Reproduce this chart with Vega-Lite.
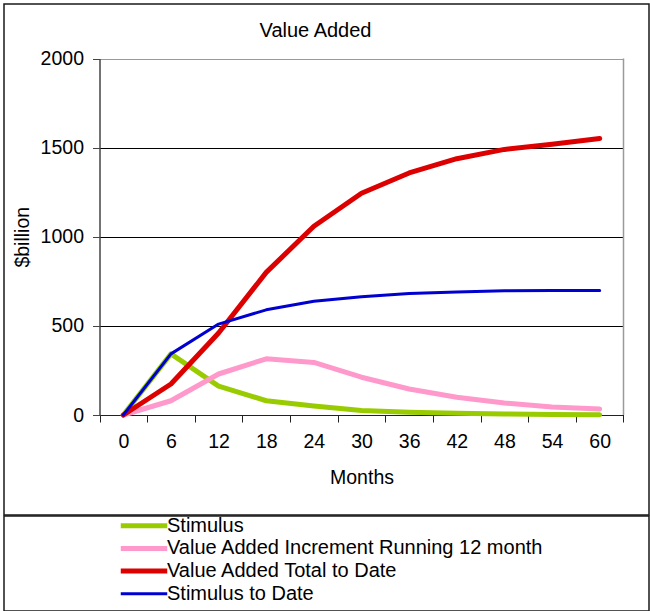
{
  "$schema": "https://vega.github.io/schema/vega-lite/v6.json",
  "padding": {"left": 3, "top": 3, "right": 0, "bottom": 0},
  "spacing": -6,
  "resolve": {"legend": {"stroke": "independent", "strokeWidth": "independent"}},
  "config": {
    "font": "Liberation Sans",
    "view": {"stroke": "#1a1a1a", "strokeWidth": 1.5},
    "axis": {
      "labelFont": "Liberation Sans",
      "labelFontSize": 19.5,
      "labelColor": "#000",
      "titleFont": "Liberation Sans",
      "titleFontSize": 19.5,
      "titleFontWeight": "normal",
      "titleColor": "#000"
    },
    "legend": {
      "labelFont": "Liberation Sans",
      "labelFontSize": 20,
      "labelColor": "#000",
      "labelLimit": 600
    }
  },
  "vconcat": [
    {
      "width": 645,
      "height": 511,
      "title": {
        "text": "Value Added",
        "anchor": "middle",
        "frame": "group",
        "offset": -46.5,
        "baseline": "middle",
        "dx": -11,
        "fontSize": 20,
        "fontWeight": "normal",
        "font": "Liberation Sans",
        "color": "#000"
      },
      "layer": [
        {
          "data": {
            "values": [
              {"month": 0, "series": "Stimulus", "value": 0},
              {"month": 6, "series": "Stimulus", "value": 343},
              {"month": 12, "series": "Stimulus", "value": 162},
              {"month": 18, "series": "Stimulus", "value": 80},
              {"month": 24, "series": "Stimulus", "value": 50},
              {"month": 30, "series": "Stimulus", "value": 25},
              {"month": 36, "series": "Stimulus", "value": 15},
              {"month": 42, "series": "Stimulus", "value": 10},
              {"month": 48, "series": "Stimulus", "value": 6},
              {"month": 54, "series": "Stimulus", "value": 3},
              {"month": 60, "series": "Stimulus", "value": 2},
              {"month": 0, "series": "Value Added Increment Running 12 month", "value": 0},
              {"month": 6, "series": "Value Added Increment Running 12 month", "value": 80},
              {"month": 12, "series": "Value Added Increment Running 12 month", "value": 230},
              {"month": 18, "series": "Value Added Increment Running 12 month", "value": 315},
              {"month": 24, "series": "Value Added Increment Running 12 month", "value": 295},
              {"month": 30, "series": "Value Added Increment Running 12 month", "value": 212},
              {"month": 36, "series": "Value Added Increment Running 12 month", "value": 146},
              {"month": 42, "series": "Value Added Increment Running 12 month", "value": 100},
              {"month": 48, "series": "Value Added Increment Running 12 month", "value": 67},
              {"month": 54, "series": "Value Added Increment Running 12 month", "value": 45},
              {"month": 60, "series": "Value Added Increment Running 12 month", "value": 34},
              {"month": 0, "series": "Value Added Total to Date", "value": 0},
              {"month": 6, "series": "Value Added Total to Date", "value": 174},
              {"month": 12, "series": "Value Added Total to Date", "value": 460},
              {"month": 18, "series": "Value Added Total to Date", "value": 800},
              {"month": 24, "series": "Value Added Total to Date", "value": 1059},
              {"month": 30, "series": "Value Added Total to Date", "value": 1244},
              {"month": 36, "series": "Value Added Total to Date", "value": 1358},
              {"month": 42, "series": "Value Added Total to Date", "value": 1438},
              {"month": 48, "series": "Value Added Total to Date", "value": 1490},
              {"month": 54, "series": "Value Added Total to Date", "value": 1519},
              {"month": 60, "series": "Value Added Total to Date", "value": 1551},
              {"month": 0, "series": "Stimulus to Date", "value": 0},
              {"month": 6, "series": "Stimulus to Date", "value": 343},
              {"month": 12, "series": "Stimulus to Date", "value": 510},
              {"month": 18, "series": "Stimulus to Date", "value": 590},
              {"month": 24, "series": "Stimulus to Date", "value": 638},
              {"month": 30, "series": "Stimulus to Date", "value": 664},
              {"month": 36, "series": "Stimulus to Date", "value": 681},
              {"month": 42, "series": "Stimulus to Date", "value": 690},
              {"month": 48, "series": "Stimulus to Date", "value": 697},
              {"month": 54, "series": "Stimulus to Date", "value": 699},
              {"month": 60, "series": "Stimulus to Date", "value": 699}
            ]
          },
          "mark": {"type": "line", "strokeCap": "round", "strokeJoin": "round"},
          "encoding": {
            "x": {
              "field": "month",
              "type": "ordinal",
              "bandPosition": 0.5,
              "scale": {"type": "band", "range": [95.5, 619.5], "paddingInner": 0, "paddingOuter": 0},
              "axis": {
                "orient": "bottom",
                "offset": -100,
                "title": "Months",
                "labelAngle": 0,
                "tickBand": "extent",
                "tickSize": 7,
                "labelPadding": 10,
                "domainColor": "#222",
                "tickColor": "#222",
                "grid": false,
                "titleY": 62.5,
                "titleBaseline": "middle"
              }
            },
            "y": {
              "field": "value",
              "type": "quantitative",
              "scale": {"domain": [0, 2000], "range": [411, 54.5], "nice": false},
              "axis": {
                "orient": "left",
                "offset": -95.5,
                "values": [0, 500, 1000, 1500, 2000],
                "format": "d",
                "grid": true,
                "gridColor": {"condition": {"test": "datum.value === 2000", "value": "#9a9a9a"}, "value": "#000"},
                "tickSize": 7,
                "labelPadding": 9,
                "domainColor": "#444",
                "domainWidth": 1.5,
                "tickColor": "#444",
                "title": "$billion",
                "titleX": -77,
                "titleBaseline": "middle"
              }
            },
            "color": {
              "field": "series",
              "type": "nominal",
              "scale": {
                "domain": ["Stimulus", "Value Added Increment Running 12 month", "Value Added Total to Date", "Stimulus to Date"],
                "range": ["#99cc00", "#ff99cc", "#dd0000", "#0000d0"]
              },
              "legend": null
            },
            "strokeWidth": {
              "field": "series",
              "type": "nominal",
              "scale": {
                "type": "ordinal",
                "domain": ["Stimulus", "Value Added Increment Running 12 month", "Value Added Total to Date", "Stimulus to Date"],
                "range": [5, 5, 5, 3]
              },
              "legend": null
            }
          }
        },
        {
          "data": {"values": [{}]},
          "mark": {"type": "rule", "color": "#9a9a9a", "strokeWidth": 1.5},
          "encoding": {
            "x": {"datum": 60, "type": "ordinal", "bandPosition": 1},
            "y": {"datum": 0, "type": "quantitative"},
            "y2": {"datum": 2000}
          }
        }
      ]
    },
    {
      "width": 645,
      "height": 95,
      "data": {
        "values": [
          {"series": "Stimulus"},
          {"series": "Value Added Increment Running 12 month"},
          {"series": "Value Added Total to Date"},
          {"series": "Stimulus to Date"}
        ]
      },
      "mark": {"type": "text", "text": ""},
      "encoding": {
        "y": {"field": "series", "type": "nominal", "axis": null},
        "stroke": {
          "field": "series",
          "type": "nominal",
          "scale": {
            "domain": ["Stimulus", "Value Added Increment Running 12 month", "Value Added Total to Date", "Stimulus to Date"],
            "range": ["#99cc00", "#ff99cc", "#dd0000", "#0000d0"]
          },
          "legend": {
            "title": null,
            "orient": "none",
            "legendX": 130,
            "legendY": -0.3,
            "padding": 0,
            "symbolType": "M-4,0H4",
            "symbolSize": 135,
            "labelOffset": 13,
            "rowPadding": 2.7
          }
        },
        "strokeWidth": {
          "field": "series",
          "type": "nominal",
          "scale": {
            "type": "ordinal",
            "domain": ["Stimulus", "Value Added Increment Running 12 month", "Value Added Total to Date", "Stimulus to Date"],
            "range": [5, 5, 5, 3]
          },
          "legend": {
            "title": null,
            "orient": "none",
            "legendX": 130,
            "legendY": -0.3,
            "padding": 0,
            "symbolType": "M-4,0H4",
            "symbolSize": 135,
            "labelOffset": 13,
            "rowPadding": 2.7
          }
        }
      }
    }
  ]
}
